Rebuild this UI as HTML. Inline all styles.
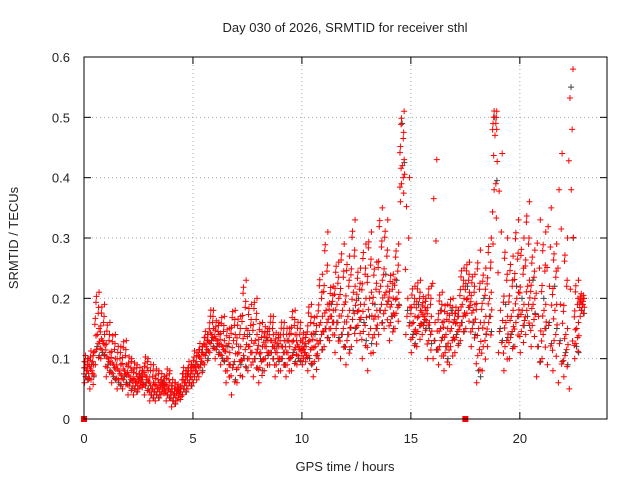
<!DOCTYPE html>
<html><head><meta charset="utf-8"><style>
body{margin:0;background:#fff;font-family:"Liberation Sans",sans-serif}
svg text{font-family:"Liberation Sans",sans-serif;font-size:13px;fill:#222}
</style></head><body>
<svg id="c" width="640" height="480">
<text x="345" y="32" text-anchor="middle">Day 030 of 2026, SRMTID for receiver sthl</text>
<text x="345" y="471" text-anchor="middle">GPS time / hours</text>
<text transform="translate(18,238) rotate(-90)" text-anchor="middle">SRMTID / TECUs</text>
<g id="grid"></g><g id="marks"></g>
<rect x="84" y="57" width="523" height="362" fill="none" stroke="#000"/>
</svg>
<script>
const xTicks=[0,5,10,15,20];
const yTicks=[0,0.1,0.2,0.3,0.4,0.5,0.6];
const yTickLabels=["0","0.1","0.2","0.3","0.4","0.5","0.6"];
const step=0.25;
const redHi=[.10,.11,.21,.19,.16,.14,.12,.13,.10,.09,.08,.10,.09,.08,.07,.08,.06,.05,.08,.09,.11,.12,.14,.18,.16,.17,.15,.18,.17,.23,.19,.20,.16,.15,.17,.14,.16,.15,.18,.16,.14,.19,.17,.24,.31,.22,.26,.29,.27,.33,.25,.29,.31,.26,.35,.33,.24,.29,.51,.40,.22,.23,.20,.22,.43,.21,.19,.20,.18,.25,.26,.24,.28,.25,.30,.51,.44,.30,.27,.33,.30,.36,.28,.33,.31,.35,.29,.44,.30,.58,.23,.20];
const redLo=[.06,.05,.09,.10,.07,.06,.05,.05,.04,.04,.05,.04,.03,.03,.04,.03,.02,.03,.04,.05,.06,.07,.09,.11,.10,.09,.06,.04,.06,.07,.08,.07,.06,.08,.09,.07,.08,.07,.08,.09,.09,.08,.07,.10,.12,.13,.11,.10,.09,.12,.13,.10,.08,.11,.14,.15,.13,.15,.36,.14,.11,.12,.14,.10,.10,.09,.08,.09,.11,.13,.15,.12,.06,.08,.12,.29,.11,.08,.10,.12,.11,.14,.12,.07,.10,.09,.08,.06,.07,.05,.10,.17];
const redMid=[.08,.08,.14,.13,.10,.09,.08,.08,.07,.06,.06,.07,.05,.05,.05,.05,.04,.04,.06,.07,.08,.10,.12,.14,.13,.12,.10,.13,.11,.14,.12,.13,.11,.12,.13,.11,.12,.11,.13,.12,.11,.13,.12,.16,.18,.17,.19,.18,.17,.21,.18,.19,.20,.17,.22,.21,.19,.20,.42,.20,.16,.17,.17,.16,.16,.15,.14,.15,.16,.19,.20,.18,.15,.16,.20,.47,.18,.16,.17,.20,.18,.22,.19,.17,.18,.22,.18,.19,.14,.38,.15,.19];
const grey=[.07,.09,.12,.11,.09,.07,.06,.07,.06,.05,.07,.06,.04,.04,.06,.04,.03,.05,.05,.06,.09,.09,.11,.13,.12,.10,.12,.09,.12,.10,.14,.10,.10,.13,.11,.12,.10,.13,.11,.10,.12,.10,.14,.13,.15,.19,.16,.14,.14,.18,.20,.16,.17,.19,.18,.24,.17,.23,.49,.18,.14,.19,.16,.15,.13,.18,.12,.18,.14,.16,.22,.16,.08,.20,.17,.50,.15,.19,.14,.22,.20,.17,.23,.12,.20,.16,.22,.13,.11,.55,.12,.18];
const zeroPts=[0,17.5];
const X=v=>84+v*523/24, Y=v=>419-v*362/0.6;
const NS="http://www.w3.org/2000/svg";
const g=document.getElementById('grid'), m=document.getElementById('marks');
function el(t,a,p){const e=document.createElementNS(NS,t);for(const k in a)e.setAttribute(k,a[k]);p.appendChild(e);return e;}
xTicks.forEach(t=>{const x=X(t);
 const l=el('line',{x1:x,x2:x,y1:57,y2:419,stroke:'#aaa','stroke-dasharray':'1,3'},g);
 
 el('line',{x1:x,x2:x,y1:419,y2:412,stroke:'#000'},g);el('line',{x1:x,x2:x,y1:57,y2:64,stroke:'#000'},g);
 const tx=el('text',{x:x,y:443,'text-anchor':'middle'},g);tx.textContent=t;
 });
yTicks.forEach((t,i)=>{const y=Y(t);
 const l=el('line',{x1:84,x2:607,y1:y,y2:y,stroke:'#aaa','stroke-dasharray':'1,3'},g);
 
 el('line',{x1:84,x2:91,y1:y,y2:y,stroke:'#000'},g);el('line',{x1:600,x2:607,y1:y,y2:y,stroke:'#000'},g);
 const tx=el('text',{x:70,y:y+5,'text-anchor':'end'},g);tx.textContent=yTickLabels[i];
 });
function plus(x,y,c,name){const p=el('path',{d:`M${x-3} ${y}h6M${x} ${y-3}v6`,stroke:c,'stroke-width':1,fill:'none'},m);
 }
grey.forEach((v,i)=>{plus(X(i*step+0.1),Y(v),'#444','point-grey');
 plus(X(i*step+0.2),Y((v+redLo[i])/2),'#444','point-grey');});
const fr=[0,0.12,0.25,0.38,0.5,0.62,0.75,0.88,1];
const off=[0.02,0.17,0.07,0.21,0.11,0.0,0.15,0.05,0.19];
redLo.forEach((lo,i)=>{
 fr.forEach((f,k)=>{
  const v=f<=0.5? lo+(redMid[i]-lo)*f*2 : redMid[i]+(redHi[i]-redMid[i])*(f-0.5)*2;
  plus(X(i*step+off[k]),Y(v),'#f00','point-red');
  if(f>0&&f<1&&redHi[i]-lo<0.25) plus(X(i*step+off[(k+4)%9]),Y(v+0.01),'#f00','point-red');
 });
});
zeroPts.forEach(t=>{const r=el('rect',{x:X(t)-3,y:Y(0)-3,width:6,height:6,fill:'#f00'},m);
 });
</script>
</body></html>
